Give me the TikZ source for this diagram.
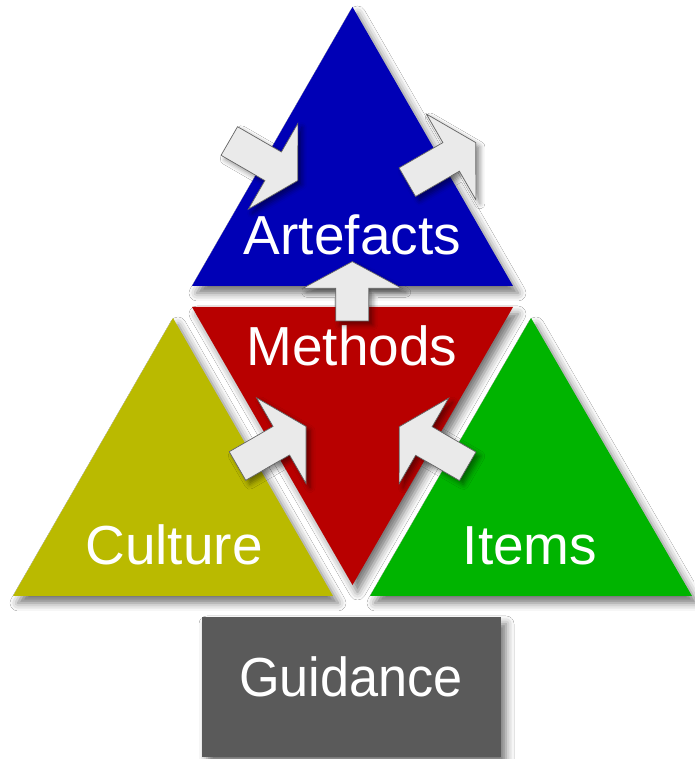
\documentclass[tikz,border=0pt]{standalone}
\usepackage{fontspec}
\setmainfont{Liberation Sans}
\usetikzlibrary{shadows.blur}
\definecolor{cblue}{RGB}{0,0,182}
\definecolor{cred}{RGB}{184,0,0}
\definecolor{colive}{RGB}{186,186,0}
\definecolor{cgreen}{RGB}{0,180,0}
\definecolor{cgray}{RGB}{90,90,90}
\definecolor{afill}{RGB}{234,234,234}
\definecolor{aline}{RGB}{100,100,100}
\newcommand{\blockarr}[5]{%
  \draw[barrow,shift={(#1,#2)},rotate=#3]
    (0,-16.5) -- (#4,-16.5) -- (#4,-49.5) -- (#4+#5,0) -- (#4,49.5) -- (#4,16.5) -- (0,16.5) -- cycle;}
\begin{document}
\begin{tikzpicture}[x=1pt,y=1pt,
  tri/.style={blur shadow={shadow xshift=5pt,shadow yshift=-7pt,shadow blur radius=8pt,shadow opacity=55}},
  lbl/.style={text=white,font=\fontsize{55}{60}\selectfont,anchor=base,inner sep=0pt},
  barrow/.style={fill=afill,draw=aline,line width=0.7pt,line join=miter,
    blur shadow={shadow xshift=4pt,shadow yshift=-4pt,shadow blur radius=5pt,shadow opacity=45}}]
\useasboundingbox (0,0) rectangle (694,759);
\fill[white] (0,0) rectangle (694,759);
% triangles
\path[tri,fill=colive] (13,163) -- (333,163) -- (173,441) -- cycle;
\path[tri,fill=cgreen] (370,163) -- (692,163) -- (531,441) -- cycle;
\path[tri,fill=cred] (192,452) -- (513,452) -- (352.5,174) -- cycle;
\path[tri,fill=cblue] (192,473) -- (513,473) -- (352.5,752) -- cycle;
% guidance box
\node[tri,fill=cgray,minimum width=299pt,minimum height=140pt,inner sep=0pt] (guidebox) at (351.5,72) {};
% labels
\node[lbl] (artefacts) at (352.5,504) {Artefacts};
\node[lbl] (methods) at (352,393.5) {Methods};
\node[lbl] (culture) at (174,194) {Culture};
\node[lbl] (items) at (530,194) {Items};
\node[lbl] (guidance) at (351,62.3) {\scalebox{0.95}[1]{Guidance}};
% block arrows
\blockarr{229.3}{618}{-30}{50.6}{28.5}
\blockarr{407.3}{576.8}{30}{50.6}{28.5}
\blockarr{237.5}{293}{30}{50.6}{28.5}
\blockarr{467.7}{292.7}{150}{50.6}{28.5}
\blockarr{352.3}{438}{90}{32.7}{26.7}
\end{tikzpicture}
\end{document}
